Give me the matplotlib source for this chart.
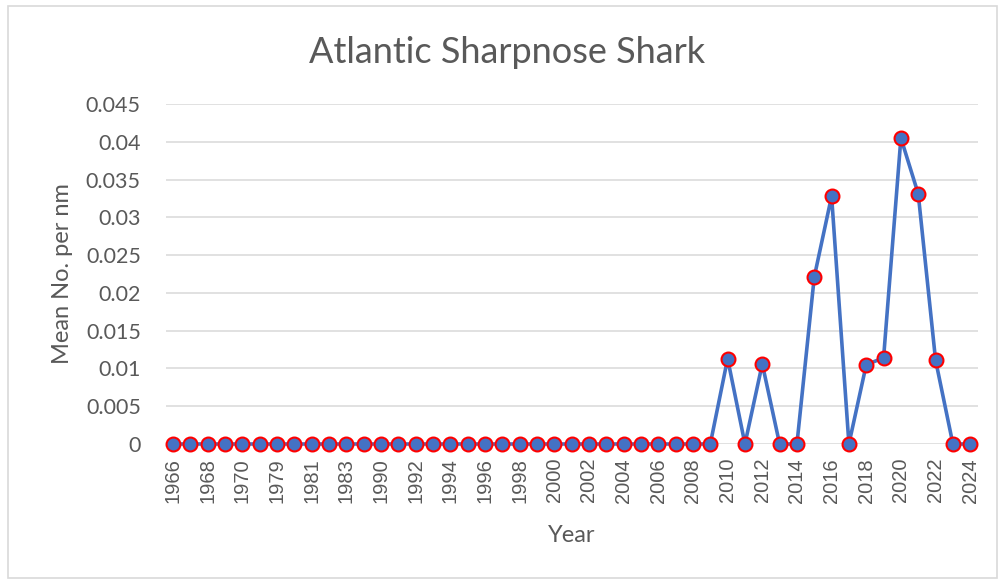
import matplotlib
matplotlib.use('Agg')
import matplotlib.pyplot as plt
import matplotlib.patches as mpatches

# categories (Excel category axis, only every other label shown)
years = ['1966', '1967', '1968', '1969', '1970', '1978', '1979', '1980', '1981',
         '1982', '1983', '1989'] + [str(y) for y in range(1990, 2025)]
values = [0.0] * 32 + [
    0.0113,  # 2010
    0.0,     # 2011
    0.0106,  # 2012
    0.0,     # 2013
    0.0,     # 2014
    0.0221,  # 2015
    0.0328,  # 2016
    0.0,     # 2017
    0.0105,  # 2018
    0.0114,  # 2019
    0.0405,  # 2020
    0.0331,  # 2021
    0.0111,  # 2022
    0.0,     # 2023
    0.0,     # 2024
]
yticks = [0, 0.005, 0.01, 0.015, 0.02, 0.025, 0.03, 0.035, 0.04, 0.045]
ytick_labels = ['0', '0.005', '0.01', '0.015', '0.02', '0.025', '0.03', '0.035', '0.04', '0.045']

fig = plt.figure(figsize=(9.99, 5.8), dpi=100)
fig.patch.set_facecolor('white')
fig.patches.append(mpatches.Rectangle((0.008, 0.003), 0.99, 0.986, transform=fig.transFigure,
                                      fill=False, edgecolor='#D9D9D9', linewidth=1.2))

ax = fig.add_axes([0.166, 0.2345, 0.813, 0.5862])
x = list(range(len(years)))
ax.plot(x, values, color='#4472C4', linewidth=2.6, marker='o', markersize=10,
        markerfacecolor='#4472C4', markeredgecolor='#FF0000', markeredgewidth=1.5,
        clip_on=False, zorder=3)

ax.set_xlim(-0.42, len(years) - 1 + 0.45)
ax.set_ylim(0, 0.045)
ax.set_yticks(yticks)
ax.set_yticklabels(ytick_labels, fontsize=15.5, color='#595959', family='Lato')
ax.set_xticks(x[::2])
ax.set_xticklabels(years[::2], rotation=90, fontsize=14.5, color='#595959',
                   family='Liberation Sans')
ax.tick_params(axis='both', length=0)
ax.tick_params(axis='y', pad=18)
ax.tick_params(axis='x', pad=10)
ax.grid(axis='y', color='#D9D9D9', linewidth=1.1)
ax.set_axisbelow(True)
for s in ax.spines.values():
    s.set_visible(False)

ax.set_xlabel('Year', fontsize=17, color='#595959', family='Lato', labelpad=16)
ax.set_ylabel('Mean No. per nm', fontsize=17, color='#595959', family='Lato', labelpad=9)
fig.text(0.508, 0.91, 'Atlantic Sharpnose Shark', ha='center', va='center',
         fontsize=26, color='#595959', family='Lato')

fig.savefig('out.png', dpi=100, facecolor='white')
